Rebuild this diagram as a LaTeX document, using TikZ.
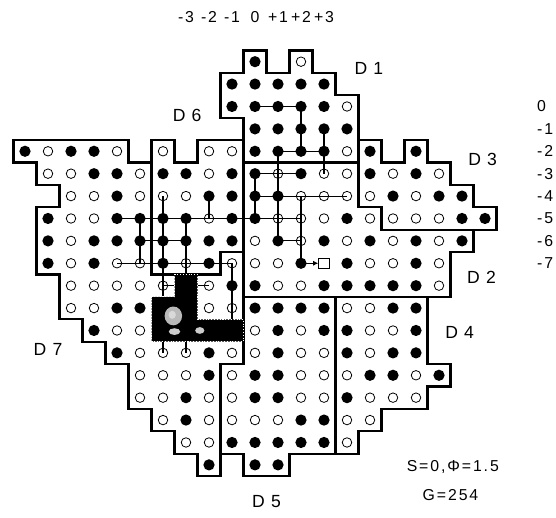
\documentclass[tikz,border=0pt]{standalone}
\usepackage{fontspec}
\setmainfont{Liberation Sans}
\newfontfamily\lettering[LetterSpace=12]{Liberation Sans}
\newfontfamily\widelettering[LetterSpace=35]{Liberation Sans}
\usetikzlibrary{arrows.meta}

\tikzset{
  fdot/.style={circle,fill=black,inner sep=0pt,minimum size=0.225cm},
  odot/.style={circle,draw=black,line width=0.45pt,inner sep=0pt,minimum size=0.19cm},
  sqdot/.style={rectangle,draw=black,line width=0.5pt,fill=white,inner sep=0pt,minimum size=0.21cm},
  zone/.style={line width=1.2pt,line join=miter},
  trace/.style={line width=0.6pt},
  zlabel/.style={font=\widelettering\fontsize{10}{12}\selectfont},
  nlabel/.style={font=\lettering\fontsize{9}{11}\selectfont}
}

\begin{document}
\begin{tikzpicture}[x=0.46cm, y=-0.448cm]
  \useasboundingbox (-1.087,-2.754) rectangle (23.087,20.37);

  % Outline of the field
  \draw[zone] (-0.5,3.5) -- (4.5,3.5) -- (4.5,4.5) -- (5.5,4.5) -- (5.5,3.5) -- (6.5,3.5)
    -- (6.5,4.5) -- (7.5,4.5) -- (7.5,3.5) -- (9.5,3.5) -- (9.5,2.5) -- (8.5,2.5)
    -- (8.5,0.5) -- (9.5,0.5) -- (9.5,-0.5) -- (10.5,-0.5) -- (10.5,0.5) -- (11.5,0.5)
    -- (11.5,-0.5) -- (12.5,-0.5) -- (12.5,0.5) -- (13.5,0.5) -- (13.5,1.5) -- (14.5,1.5)
    -- (14.5,3.5) -- (15.5,3.5) -- (15.5,4.5) -- (16.5,4.5) -- (16.5,3.5) -- (17.5,3.5)
    -- (17.5,4.5) -- (18.5,4.5) -- (18.5,5.5) -- (19.5,5.5) -- (19.5,6.5) -- (20.5,6.5)
    -- (20.5,7.5) -- (19.5,7.5) -- (19.5,8.5) -- (18.5,8.5) -- (18.5,10.5) -- (17.5,10.5)
    -- (17.5,13.5) -- (18.5,13.5) -- (18.5,14.5) -- (17.5,14.5) -- (17.5,15.5) -- (15.5,15.5)
    -- (15.5,16.5) -- (14.5,16.5) -- (14.5,17.5) -- (11.5,17.5) -- (11.5,18.5) -- (9.5,18.5)
    -- (9.5,17.5) -- (8.5,17.5) -- (8.5,18.5) -- (7.5,18.5) -- (7.5,17.5) -- (6.5,17.5)
    -- (6.5,16.5) -- (5.5,16.5) -- (5.5,15.5) -- (4.5,15.5) -- (4.5,13.5) -- (3.5,13.5)
    -- (3.5,12.5) -- (2.5,12.5) -- (2.5,11.5) -- (1.5,11.5) -- (1.5,9.5) -- (0.5,9.5)
    -- (0.5,6.5) -- (1.5,6.5) -- (1.5,5.5) -- (0.5,5.5) -- (0.5,4.5) -- (-0.5,4.5) -- cycle;

  % Zones
  \draw[zone] (9.5,4.5) -- (14.5,4.5);
  \draw[zone] (9.5,3.5) -- (9.5,13.5) -- (8.5,13.5) -- (8.5,17.5);
  \draw[zone] (5.5,4.5) -- (5.5,9.5) -- (8.5,9.5) -- (8.5,8.5) -- (9.5,8.5);
  \draw[zone] (14.5,3.5) -- (14.5,6.5) -- (15.5,6.5) -- (15.5,7.5) -- (19.5,7.5);
  \draw[zone] (9.5,10.5) -- (17.5,10.5);
  \draw[zone] (13.5,10.5) -- (13.5,17.5);

  % Filled points
  \foreach \r/\cols in {0/{10}, 1/{9,10,11,12,13}, 2/{9,10,11,12,13}, 3/{10,11,12,13,14},
      4/{0,2,3,10,11,12,13,15,17}, 5/{3,4,6,7,9,10,12,15,17}, 6/{4,8,9,10,11,16,18,19},
      7/{1,4,5,6,7,9,10,14,19,20}, 8/{1,3,4,5,6,7,8,9,11,13,15,17,19},
      9/{1,3,6,8,12,14,17}, 10/{9,10,13,14,15,16,17}, 11/{4,5,10,11,12,13,16,17},
      12/{3,11,13,14,17}, 13/{4,8,11,14,16,17}, 14/{8,10,11,15,16,18},
      15/{7,10,11,14}, 16/{7,12,13}, 17/{9,10,11,12,13}, 18/{8,10,11}}
    \foreach \c in \cols
      \node[fdot] (p-\c-\r) at (\c,\r) {};

  % Open points
  \foreach \r/\cols in {0/{12}, 2/{14}, 4/{1,4,6,8,9,14}, 5/{1,2,5,8,11,13,14,16,18},
      6/{2,3,5,6,7,12,13,14,15,17}, 7/{2,3,8,11,12,13,15,16,17,18},
      8/{2,10,12,14,16,18}, 9/{2,4,5,7,9,10,11,15,16,18}, 10/{2,3,4,5,6,8,11,12,18},
      11/{2,3,8,9,14,15}, 12/{4,5,10,12,15,16}, 13/{5,6,7,9,10,12,13,15},
      14/{5,6,7,9,12,13,14,17}, 15/{5,6,8,9,12,13,15,16,17},
      16/{6,8,9,10,11,14,15}, 17/{7,8,14}}
    \foreach \c in \cols
      \node[odot] (p-\c-\r) at (\c,\r) {};

  \node[sqdot] (p-13-9) at (13,9) {};
  \coordinate (p-9-12) at (9,12);

  % Trace
  \draw[trace] (p-10-2.center) -- (p-12-2.center);
  \draw[trace] (p-12-2.center) -- (p-12-4.center);
  \draw[trace] (p-11-4.center) -- (p-13-4.center);
  \draw[trace] (p-13-3.center) -- (p-13-5.center);
  \draw[trace] (p-11-4.center) -- (p-11-8.center);
  \draw[trace] (p-10-5.center) -- (p-12-5.center);
  \draw[trace] (p-10-5.center) -- (p-10-7.center);
  \draw[trace] (p-10-6.center) -- (p-14-6.center);
  \draw[trace] (p-4-7.center) -- (p-12-7.center);
  \draw[trace] (p-11-8.center) -- (p-12-8.center);
  \draw[trace] (p-12-6.center) -- (p-12-9.center);
  \draw[trace,-{Latex[length=3pt,width=3pt]}] (p-12-9.center) -- (p-13-9.west);
  \draw[trace] (p-6-6.center) -- (p-6-13.center);
  \draw[trace] (p-8-6.center) -- (p-8-7.center);
  \draw[trace] (p-5-7.center) -- (p-5-9.center);
  \draw[trace] (p-7-7.center) -- (p-7-13.center);
  \draw[trace] (p-5-8.center) -- (p-7-8.center);
  \draw[trace] (p-4-9.center) -- (p-9-9.center);
  \draw[trace] (p-9-9.center) -- (p-9-12);
  \draw[trace] (p-6-10.center) -- (p-8-10.center);

  % Blind spot
  \fill[black] (6.5,9.5) -- (7.5,9.5) -- (7.5,11.5) -- (9.5,11.5) -- (9.5,12.5)
    -- (5.5,12.5) -- (5.5,10.5) -- (6.5,10.5) -- cycle;
  \draw[white,densely dotted,line width=0.6pt] (6.5,9.5) -- (7.5,9.5) -- (7.5,11.5)
    -- (9.5,11.5) -- (9.5,12.5) -- (5.5,12.5) -- (5.5,10.5) -- (6.5,10.5) -- cycle;
  \fill[gray!55] (6.45,11.35) ellipse (0.38 and 0.42);
  \fill[gray!30] (6.4,11.3) ellipse (0.16 and 0.18);
  \fill[gray!40] (6.5,12.05) ellipse (0.25 and 0.15);
  \fill[gray!40] (7.6,12.0) ellipse (0.2 and 0.15);

  % Labels
  \node[zlabel] (D1) at (14.95,0.3) {D1};
  \node[zlabel] (D6) at (7.05,2.4) {D6};
  \node[zlabel] (D3) at (19.9,4.35) {D3};
  \node[zlabel] (D2) at (19.85,9.65) {D2};
  \node[zlabel] (D4) at (18.9,12.1) {D4};
  \node[zlabel] (D7) at (1.0,12.85) {D7};
  \node[zlabel] (D5) at (10.5,19.65) {D5};

  \foreach \v [count=\i from 7] in {-3,-2,-1,0,+1,+2,+3}
    \node[nlabel] (top\i) at (\i,-2.0) {\v};
  \foreach \v [count=\i from 2] in {0,-1,-2,-3,-4,-5,-6,-7}
    \node[nlabel,anchor=west] (side\i) at (22.0,\i) {\v};

  \node[nlabel] (param) at (18.6,18.1) {S=0,Φ=1.5};
  \node[nlabel] (grade) at (18.5,19.35) {G=254};
\end{tikzpicture}
\end{document}
